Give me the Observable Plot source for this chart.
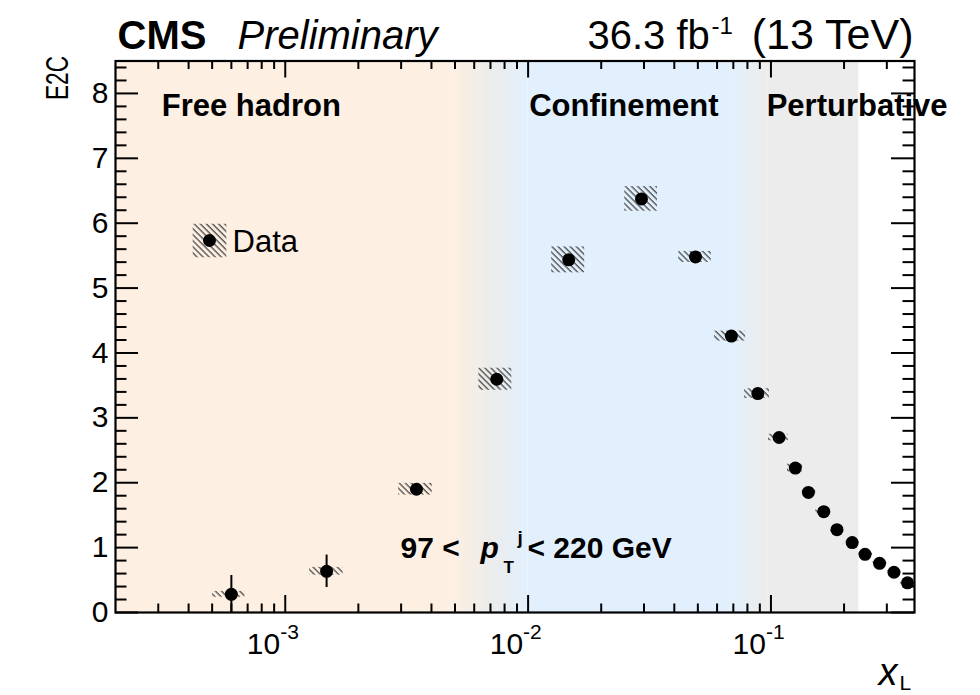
<!DOCTYPE html>
<html><head><meta charset="utf-8">
<script src="https://cdn.jsdelivr.net/npm/d3@7"></script>
<script src="https://cdn.jsdelivr.net/npm/@observablehq/plot@0.6"></script>
<style>
body{margin:0;background:#fff}
#chart svg{display:block}
</style>
</head><body>
<svg width="0" height="0" style="position:absolute">
<defs>
<pattern id="hatch" width="4.3" height="4.3" patternUnits="userSpaceOnUse" patternTransform="rotate(-45)">
<line x1="1" y1="0" x2="1" y2="4.3" stroke="#4a4a4a" stroke-width="1.3"/>
</pattern>
<linearGradient id="gHadConf" x1="0" x2="1" y1="0" y2="0">
<stop offset="0" stop-color="#fdefe2"/><stop offset="0.5" stop-color="#ececec"/><stop offset="1" stop-color="#e2f0fd"/>
</linearGradient>
<linearGradient id="gConfPert" x1="0" x2="1" y1="0" y2="0">
<stop offset="0" stop-color="#e2f0fd"/><stop offset="1" stop-color="#ececec"/>
</linearGradient>
</defs>
</svg>
<div id="chart"></div>
<script>
// ---- data ----
const xL      = [6.0e-4, 1.48e-3, 3.47e-3, 7.43e-3, 0.0147, 0.0293, 0.0489, 0.0687, 0.0883, 0.108, 0.126, 0.1426, 0.165, 0.187, 0.216, 0.244, 0.280, 0.321, 0.365];
const e2c     = [0.28, 0.635, 1.90, 3.595, 5.435, 6.374, 5.48, 4.26, 3.374, 2.697, 2.226, 1.851, 1.554, 1.277, 1.077, 0.897, 0.758, 0.620, 0.457];
const statErr = [0.29, 0.25, 0.05, 0.05, 0.05, 0.04, 0.03, 0.03, 0.03, 0.02, 0.02, 0.02, 0.02, 0.02, 0.02, 0.02, 0.02, 0.02, 0.02];
const systErr = [0.045, 0.06, 0.09, 0.17, 0.20, 0.19, 0.085, 0.077, 0.075, 0.05, 0.06, 0.04, 0.03, 0.03, 0.02, 0.02, 0.02, 0.02, 0.02];
const binLow  = [5.02e-4, 1.26e-3, 2.93e-3, 6.27e-3, 0.0125, 0.0250, 0.0417, 0.0586, 0.0779, 0.0977, 0.117, 0.135, 0.153, 0.176, 0.200, 0.230, 0.262, 0.300, 0.342];
const binHigh = [6.82e-4, 1.73e-3, 4.03e-3, 8.57e-3, 0.0171, 0.0341, 0.0568, 0.0786, 0.0986, 0.118, 0.135, 0.153, 0.176, 0.200, 0.230, 0.262, 0.300, 0.342, 0.385];

const bandStart = [2e-4, 5e-3, 0.01, 0.068, 0.097];
const bandEnd   = [5e-3, 0.01, 0.068, 0.097, 0.23];
const bandKind  = ["hadron", "hadron-conf", "conf", "conf-pert", "pert"];

const regionLabels = ["Free hadron", "Confinement", "Perturbative"];
const regionLabelX = [3.1e-4, 0.0101, 0.096];

const yMajorTicks = [0, 1, 2, 3, 4, 5, 6, 7, 8];
const yTickLabels = ["0", "1", "2", "3", "4", "5", "6", "7", "8"];
const xMajorTicks = [1e-3, 1e-2, 1e-1];
const xTickExponents = ["-3", "-2", "-1"];

// ---- layout ----
const W = 980, H = 695;
const mL = 115, mR = 66, mT = 60.5, mB = 83;
const fw = W - mL - mR, fh = H - mT - mB;
const yMajLen = 23, yMinLen = 11.5, xMajLen = 17, xMinLen = 8.5;

const pts = xL.map((x, i) => ({x, y: e2c[i], stat: statErr[i], syst: systErr[i], lo: binLow[i], hi: binHigh[i]}));
const bands = bandStart.map((s, i) => ({x1: s, x2: bandEnd[i], kind: bandKind[i]}));
const bandFill = {"hadron": "#fdefe2", "hadron-conf": "url(#gHadConf)", "conf": "#e2f0fd", "conf-pert": "url(#gConfPert)", "pert": "#ececec"};
const regions = regionLabels.map((t, i) => ({t, x: regionLabelX[i]}));

const yMinor = d3.range(0, 8.5001, 0.2).map(v => +v.toFixed(2)).filter(v => Math.abs(v - Math.round(v)) > 1e-6);
const xMinor = [];
for (const d of [1e-4, 1e-3, 1e-2, 1e-1]) for (let m = 2; m <= 9; m++) { const v = m * d; if (v > 2e-4 && v < 0.39) xMinor.push(v); }

const font = "Liberation Sans, Arial, Helvetica, sans-serif";

const chart = Plot.plot({
  width: W, height: H,
  marginLeft: mL, marginRight: mR, marginTop: mT, marginBottom: mB,
  x: {type: "log", domain: [2e-4, 0.39], axis: null},
  y: {domain: [0, 8.5], axis: null},
  style: {fontFamily: font, background: "white", color: "black"},
  marks: [
    // background regions
    Plot.rect(bands, {x1: "x1", x2: "x2", fill: d => bandFill[d.kind]}),
    // region labels
    Plot.text(regions, {x: "x", text: "t", frameAnchor: "top", dy: 54.5, textAnchor: "start", lineAnchor: "bottom", fontSize: 31, fontWeight: "bold", fill: "black"}),
    // systematic hatched boxes
    Plot.rect(pts, {x1: "lo", x2: "hi", y1: d => d.y - d.syst, y2: d => d.y + d.syst, fill: "url(#hatch)"}),
    // statistical error bars
    Plot.ruleX(pts, {x: "x", y1: d => Math.max(0, d.y - d.stat), y2: d => d.y + d.stat, stroke: "black", strokeWidth: 2}),
    // data points
    Plot.dot(pts, {x: "x", y: "y", r: 6.5, fill: "black", stroke: "none"}),
    // ticks: y left / right
    Plot.tickY(yMajorTicks, {y: d => d, insetRight: fw - yMajLen, stroke: "black", strokeWidth: 2}),
    Plot.tickY(yMinor, {y: d => d, insetRight: fw - yMinLen, stroke: "black", strokeWidth: 2}),
    Plot.tickY(yMajorTicks, {y: d => d, insetLeft: fw - yMajLen, stroke: "black", strokeWidth: 2}),
    Plot.tickY(yMinor, {y: d => d, insetLeft: fw - yMinLen, stroke: "black", strokeWidth: 2}),
    // ticks: x bottom / top
    Plot.tickX(xMajorTicks, {x: d => d, insetTop: fh - xMajLen, stroke: "black", strokeWidth: 2}),
    Plot.tickX(xMinor, {x: d => d, insetTop: fh - xMinLen, stroke: "black", strokeWidth: 2}),
    Plot.tickX(xMajorTicks, {x: d => d, insetBottom: fh - xMajLen, stroke: "black", strokeWidth: 2}),
    Plot.tickX(xMinor, {x: d => d, insetBottom: fh - xMinLen, stroke: "black", strokeWidth: 2}),
    Plot.frame({stroke: "black", strokeWidth: 2.2}),
    // y tick labels
    Plot.text(yMajorTicks, {y: d => d, text: (d, i) => yTickLabels[i], frameAnchor: "left", dx: -7, textAnchor: "end", lineAnchor: "middle", fontSize: 30, fill: "black"}),
    // x tick labels: 10^{n}
    Plot.text(xMajorTicks, {x: d => d, text: () => "10", frameAnchor: "bottom", dx: -5, dy: 41, textAnchor: "end", lineAnchor: "bottom", fontSize: 30, fill: "black"}),
    Plot.text(xMajorTicks, {x: d => d, text: (d, i) => xTickExponents[i], frameAnchor: "bottom", dx: -5, dy: 26, textAnchor: "start", lineAnchor: "bottom", fontSize: 21, fill: "black"}),
    // axis titles
    Plot.text(["E2C"], {text: d => d, frameAnchor: "top-left", dx: -57, dy: -5, rotate: -90, textAnchor: "end", lineAnchor: "middle", fontSize: 31, fill: "black"}),
    Plot.text(["x"], {text: d => d, frameAnchor: "bottom-right", dx: -36, dy: 72, textAnchor: "start", lineAnchor: "bottom", fontSize: 38, fontStyle: "italic", fill: "black"}),
    Plot.text(["L"], {text: d => d, frameAnchor: "bottom-right", dx: -15, dy: 77, textAnchor: "start", lineAnchor: "bottom", fontSize: 21, fill: "black"}),
    // header
    Plot.text(["CMS"], {text: d => d, frameAnchor: "top-left", dx: 2, dy: -12.5, textAnchor: "start", lineAnchor: "bottom", fontSize: 40, fontWeight: "bold", fill: "black"}),
    Plot.text(["Preliminary"], {text: d => d, frameAnchor: "top-left", dx: 122, dy: -12.5, textAnchor: "start", lineAnchor: "bottom", fontSize: 40, fontStyle: "italic", fill: "black"}),
    Plot.text(["36.3 fb"], {text: d => d, frameAnchor: "top-right", dx: -327, dy: -12.5, textAnchor: "start", lineAnchor: "bottom", fontSize: 40, fill: "black"}),
    Plot.text(["-1"], {text: d => d, frameAnchor: "top-right", dx: -203, dy: -27, textAnchor: "start", lineAnchor: "bottom", fontSize: 24, fill: "black"}),
    Plot.text(["(13 TeV)"], {text: d => d, frameAnchor: "top-right", dx: -1, dy: -12.5, textAnchor: "end", lineAnchor: "bottom", fontSize: 43, fill: "black"}),
    // legend
    Plot.dot(["Data"], {frameAnchor: "top-left", dx: 94, dy: 179.5, symbol: "square", r: 19, fill: "url(#hatch)", stroke: "none"}),
    Plot.dot(["Data"], {frameAnchor: "top-left", dx: 94, dy: 179.5, r: 6.5, fill: "black", stroke: "none"}),
    Plot.text(["Data"], {text: d => d, frameAnchor: "top-left", dx: 117, dy: 191, textAnchor: "start", lineAnchor: "bottom", fontSize: 31, fill: "black"}),
    // kinematic annotation
    Plot.text(["97 <"], {text: d => d, frameAnchor: "bottom-left", dx: 285, dy: -55, textAnchor: "start", lineAnchor: "bottom", fontSize: 30, fontWeight: "bold", fill: "black"}),
    Plot.text(["p"], {text: d => d, frameAnchor: "bottom-left", dx: 365, dy: -55, textAnchor: "start", lineAnchor: "bottom", fontSize: 30, fontWeight: "bold", fontStyle: "italic", fill: "black"}),
    Plot.text(["j"], {text: d => d, frameAnchor: "bottom-left", dx: 402, dy: -69, textAnchor: "start", lineAnchor: "bottom", fontSize: 19, fontWeight: "bold", fill: "black"}),
    Plot.text(["T"], {text: d => d, frameAnchor: "bottom-left", dx: 388, dy: -40, textAnchor: "start", lineAnchor: "bottom", fontSize: 17, fontWeight: "bold", fill: "black"}),
    Plot.text(["< 220 GeV"], {text: d => d, frameAnchor: "bottom-left", dx: 412, dy: -55, textAnchor: "start", lineAnchor: "bottom", fontSize: 30, fontWeight: "bold", fill: "black"})
  ]
});
document.getElementById("chart").appendChild(chart);
// condense the y-axis title as in the reference
d3.select(chart).selectAll("text").filter(function(){ return this.textContent === "E2C"; })
  .attr("textLength", 44).attr("lengthAdjust", "spacingAndGlyphs");
</script>
</body></html>
